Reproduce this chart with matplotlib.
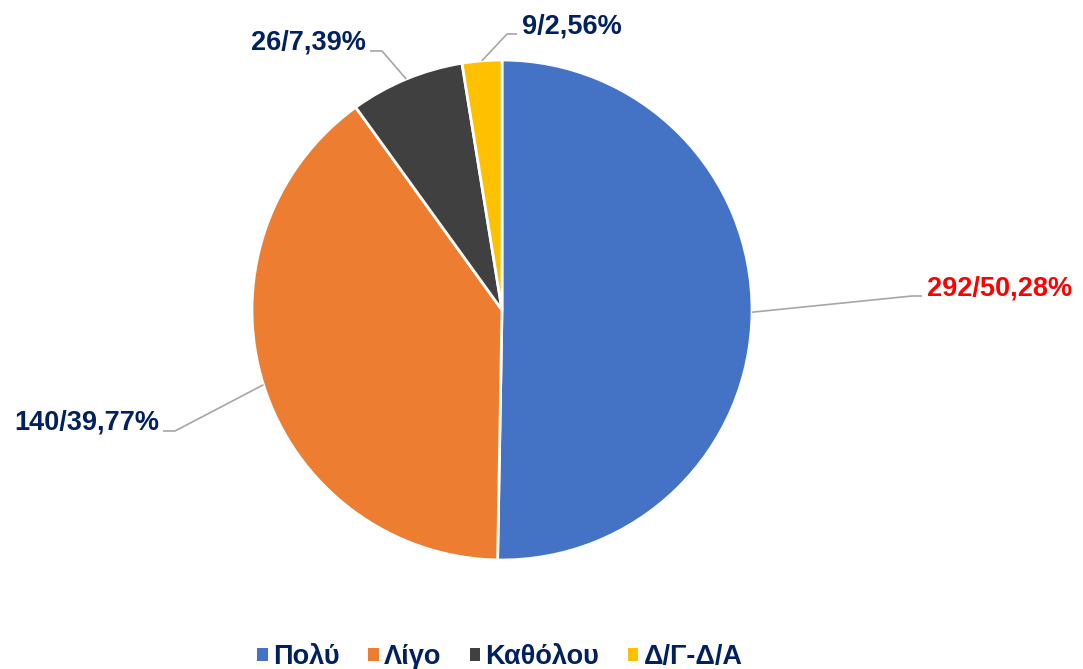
import numpy as np
import matplotlib.pyplot as plt

# data
categories = ["Πολύ", "Λίγο", "Καθόλου", "Δ/Γ-Δ/Α"]
counts = [292, 140, 26, 9]
percents = [50.28, 39.77, 7.39, 2.56]
colors = ["#4472C4", "#ED7D31", "#404040", "#FFC000"]
label_colors = ["#FF0000", "#002060", "#002060", "#002060"]

W, H = 1083, 669
fig = plt.figure(figsize=(W / 100, H / 100), dpi=100)
ax = fig.add_axes([0, 0, 1, 1])

cx, cy, r = 502, H - 310, 250
wedges, _ = ax.pie(percents, colors=colors, startangle=90, counterclock=False,
                   center=(cx, cy), radius=r, frame=True,
                   wedgeprops=dict(edgecolor="white", linewidth=2))
ax.set_xlim(0, W)
ax.set_ylim(0, H)
ax.set_aspect("equal")
ax.axis("off")

# leader layout: elbow point (pixel coords), short horizontal end, text side
elbows = [((912, 296), (922, 296), "left"),
          ((175, 431), (163, 431), "right"),
          ((382, 51), (370, 51), "right"),
          ((507, 34), (517, 34), "left")]

for w, n, p, col, (elb, end, side) in zip(wedges, counts, percents, label_colors, elbows):
    ang = np.deg2rad((w.theta1 + w.theta2) / 2)
    ex, ey = cx + r * np.cos(ang), cy + r * np.sin(ang)
    xs = [ex, elb[0], end[0]]
    ys = [ey, H - elb[1], H - end[1]]
    ax.plot(xs, ys, color="#A6A6A6", lw=1.2, solid_capstyle="butt")
    txt = "{}/{}%".format(n, ("%.2f" % p).replace(".", ","))
    if side == "left":
        tx, ha = end[0] + 5, "left"
    else:
        tx, ha = end[0] - 4, "right"
    ax.text(tx, H - end[1] + 8, txt, ha=ha, va="center", color=col,
            fontsize=19.5, fontweight="bold", family="Liberation Sans")

leg = fig.legend(wedges, categories, loc="lower center", bbox_to_anchor=(500 / W, -0.038),
                 ncol=4, frameon=False, handlelength=0.38, handleheight=0.38,
                 handletextpad=0.2, columnspacing=1.05,
                 prop=dict(family="Liberation Sans", weight="bold", size=19.5))
for t in leg.get_texts():
    t.set_color("#002060")
for h in leg.legend_handles:
    h.set_edgecolor("none")

fig.savefig("out.png", dpi=100)
